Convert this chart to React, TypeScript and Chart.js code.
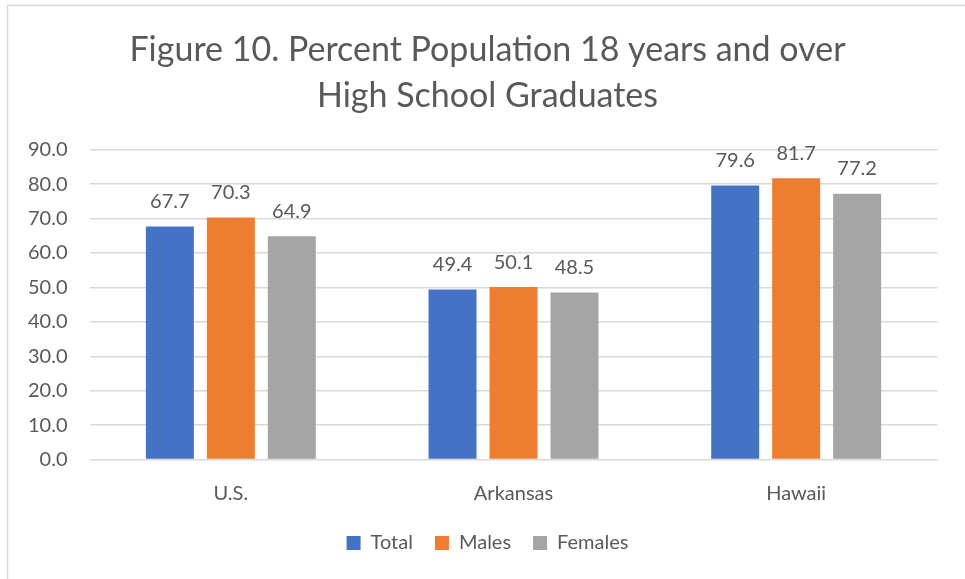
import React, { useEffect, useRef } from "react";
import { Chart, registerables } from "chart.js";

Chart.register(...registerables);

const categories = ["U.S.", "Arkansas", "Hawaii"];
const seriesNames = ["Total", "Males", "Females"];
const totalValues = [67.7, 49.4, 79.6];
const maleValues = [70.3, 50.1, 81.7];
const femaleValues = [64.9, 48.5, 77.2];
const seriesColors = ["#4472C4", "#ED7D31", "#A5A5A5"];
const titleLines = ["Figure 10. Percent Population 18 years and over", "High School Graduates"];

const FONT = "Lato, 'Noto Sans', sans-serif";
const TEXT = "#595959";

const borderPlugin = {
  id: "outerBorder",
  beforeDraw(chart: any) {
    const ctx = chart.ctx;
    ctx.save();
    ctx.fillStyle = "#ffffff";
    ctx.fillRect(0, 0, chart.width, chart.height);
    ctx.strokeStyle = "#d9d9d9";
    ctx.lineWidth = 1.5;
    ctx.strokeRect(7.5, 5.5, chart.width + 20, chart.height + 20);
    ctx.restore();
  },
};

const labelPlugin = {
  id: "valueLabels",
  afterDatasetsDraw(chart: any) {
    const ctx = chart.ctx;
    ctx.save();
    ctx.fillStyle = TEXT;
    ctx.font = `20px ${FONT}`;
    ctx.textAlign = "center";
    ctx.textBaseline = "middle";
    chart.data.datasets.forEach((ds: any, i: number) => {
      const meta = chart.getDatasetMeta(i);
      meta.data.forEach((bar: any, j: number) => {
        const v = ds.data[j] as number;
        ctx.fillText(v.toFixed(1), bar.x, bar.y - 25);
      });
    });
    ctx.restore();
  },
};

export default function App() {
  const ref = useRef<HTMLCanvasElement | null>(null);
  useEffect(() => {
    document.body.style.margin = "0";
    if (!ref.current) return;
    const chart = new Chart(ref.current, {
      type: "bar",
      data: {
        labels: categories,
        datasets: [totalValues, maleValues, femaleValues].map((d, i) => ({
          label: seriesNames[i],
          data: d,
          backgroundColor: seriesColors[i],
          borderWidth: 0,
          barPercentage: 0.787,
          categoryPercentage: 0.647,
        })),
      },
      options: {
        responsive: false,
        animation: false,
        layout: { padding: { left: 10, right: 0, top: 0, bottom: 16 } },
        plugins: {
          title: {
            display: true,
            text: titleLines,
            color: TEXT,
            font: { family: FONT, size: 34, weight: "normal", lineHeight: 1.35 },
            padding: { top: 27, bottom: 31 },
          },
          legend: {
            position: "bottom",
            labels: {
              color: TEXT,
              font: { family: FONT, size: 20 },
              boxWidth: 14,
              boxHeight: 14,
              padding: 22,
            },
          },
          tooltip: { enabled: false },
        },
        scales: {
          x: {
            grid: { display: false, drawTicks: false },
            border: { display: false },
            ticks: { color: TEXT, font: { family: FONT, size: 20 }, padding: 22 },
            afterFit(scale: any) {
              scale.height = 51.5;
            },
          },
          y: {
            min: 0,
            max: 90,
            grid: { color: "#d9d9d9", lineWidth: 1.5, drawTicks: false },
            border: { display: false },
            ticks: {
              stepSize: 10,
              color: TEXT,
              font: { family: FONT, size: 20 },
              padding: 22,
              callback: (v: any) => Number(v).toFixed(1),
            },
            afterFit(scale: any) {
              scale.width = 79.5;
            },
          },
          y2: {
            position: "right",
            min: 0,
            max: 90,
            grid: { display: false, drawTicks: false },
            border: { display: false },
            ticks: { display: false },
            afterFit(scale: any) {
              scale.width = 27.5;
            },
          },
        },
      },
      plugins: [borderPlugin, labelPlugin],
    });
    return () => chart.destroy();
  }, []);
  return <canvas ref={ref} width={965} height={579} style={{ display: "block" }} />;
}
